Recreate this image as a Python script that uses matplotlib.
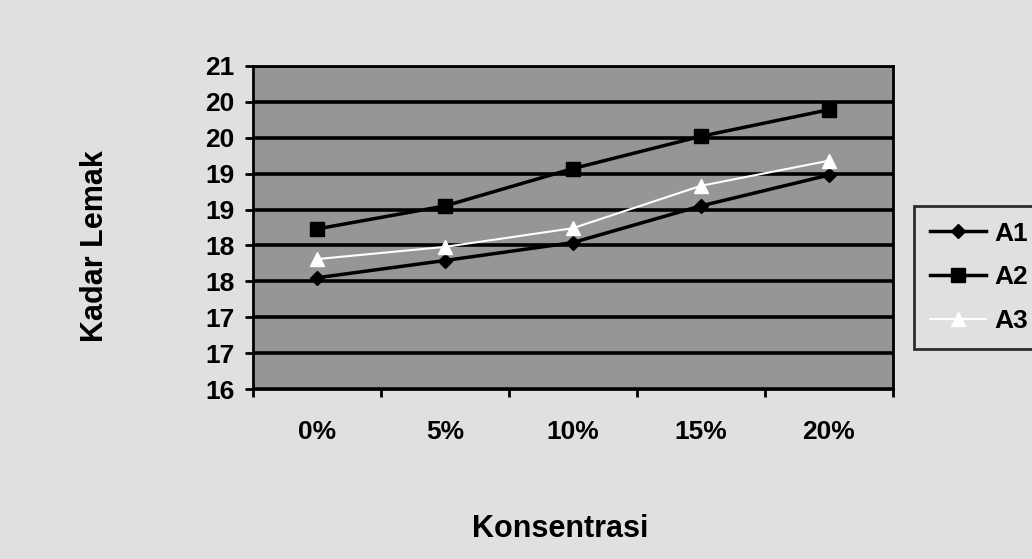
import math
import matplotlib
matplotlib.use("Agg")
import matplotlib.pyplot as plt
from matplotlib.ticker import FixedLocator, FuncFormatter

# Kadar lemak per konsentrasi
konsentrasi = ["0%", "5%", "10%", "15%", "20%"]
a1 = [17.55, 17.79, 18.04, 18.55, 18.98]
a2 = [18.23, 18.55, 19.07, 19.52, 19.89]
a3 = [17.81, 17.98, 18.24, 18.83, 19.18]
y_ticks = [16, 16.5, 17, 17.5, 18, 18.5, 19, 19.5, 20, 20.5]

plt.rcParams["font.family"] = ["Liberation Sans", "DejaVu Sans"]
plt.rcParams["font.weight"] = "bold"

kertas = "#e0e0e0"
abu = "#969696"

fig = plt.figure(figsize=(10.32, 5.59), dpi=100, facecolor=kertas)
ax = fig.add_axes([0.245, 0.304, 0.62, 0.578], facecolor=abu)

x = list(range(len(konsentrasi)))
ax.plot(x, a1, color="black", lw=2.5, marker="D", ms=7, mfc="black", mec="black", label="A1", zorder=4)
ax.plot(x, a2, color="black", lw=2.5, marker="s", ms=10, mfc="black", mec="black", label="A2", zorder=4)
ax.plot(x, a3, color="white", lw=1.5, marker="^", ms=10, mfc="white", mec="white", label="A3", zorder=4)

ax.set_xlim(-0.5, len(konsentrasi) - 0.5)
ax.set_ylim(16, 20.5)

# garis grid horizontal, label dibulatkan ke bilangan bulat
ax.yaxis.set_major_locator(FixedLocator(y_ticks))
ax.yaxis.set_major_formatter(FuncFormatter(lambda v, p: f"{math.floor(v + 0.5)}"))
ax.grid(axis="y", color="black", lw=2.6, zorder=1)
ax.set_axisbelow(True)

# tanda di batas kategori, label di tengah
ax.xaxis.set_major_locator(FixedLocator([i - 0.5 for i in range(len(konsentrasi) + 1)]))
ax.xaxis.set_major_formatter(FuncFormatter(lambda v, p: ""))
ax.xaxis.set_minor_locator(FixedLocator(x))
ax.set_xticklabels(konsentrasi, minor=True)

ax.tick_params(axis="y", which="major", length=6, width=2, pad=7, labelsize=19)
ax.tick_params(axis="x", which="major", length=6, width=2)
ax.tick_params(axis="x", which="minor", length=0, pad=22, labelsize=19)

for s in ax.spines.values():
    s.set_color("black")
    s.set_linewidth(2)

fig.text(0.092, 0.56, "Kadar Lemak", rotation=90, ha="center", va="center", fontsize=22, fontweight="bold")
fig.text(0.543, 0.054, "Konsentrasi", ha="center", va="center", fontsize=22, fontweight="bold")

leg = fig.legend(loc="upper left", bbox_to_anchor=(0.886, 0.632), fontsize=19, frameon=True,
                 fancybox=False, handlelength=2.1, handletextpad=0.32, labelspacing=0.75,
                 borderpad=0.6, borderaxespad=0)
leg.get_frame().set_edgecolor("black")
leg.get_frame().set_linewidth(2)
leg.get_frame().set_facecolor(kertas)

fig.savefig("out.png", dpi=100, facecolor=kertas)
